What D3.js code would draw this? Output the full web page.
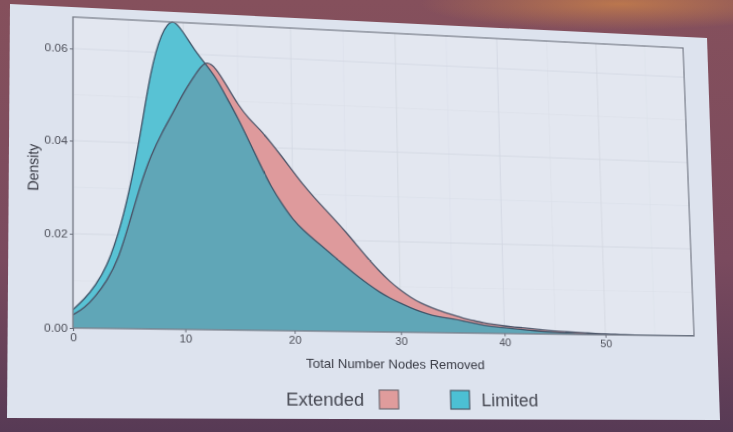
<!DOCTYPE html>
<html><head><meta charset="utf-8">
<script src="https://cdn.jsdelivr.net/npm/d3@7"></script>
<style>
html,body{margin:0;padding:0;width:733px;height:432px;overflow:hidden;background:#6e4459;}
#bg{position:absolute;left:0;top:0;}
#wrap{position:absolute;left:0;top:0;width:733px;height:432px;transform-origin:0 0;}
text{font-family:"Liberation Sans",Arial,sans-serif;}
</style></head><body>
<svg id="bg" width="733" height="432"></svg>
<div id="wrap"><svg id="chart" width="733" height="432"></svg></div>
<script>
// ---- data ----
const nodesRemoved = [0,1,2,3,4,5,6,7,8,9,10,11,12,13,14,15,16,17,18,19,20,21,22,23,24,25,26,27,28,29,
  30,31,32,33,34,35,36,37,38,39,40,41,42,43,44,45,46,47,48,49,50,51,52,53,54,55,56,57,58,59];
const extendedDensity = [0.0028,0.0042,0.0068,0.0101,0.0146,0.0224,0.0308,0.0375,0.0425,0.0468,
  0.0515,0.0552,0.0590,0.0572,0.0532,0.0492,0.0462,0.0440,0.0412,0.0382,
  0.0351,0.0320,0.0293,0.0268,0.0243,0.0217,0.0189,0.0161,0.0135,0.0112,
  0.0093,0.0077,0.0064,0.0055,0.0047,0.0040,0.0033,0.0028,0.0023,0.0020,
  0.0017,0.0015,0.0013,0.0011,0.0009,0.0007,0.0006,0.0005,0.0004,0.0003,
  0.0002,0.0002,0.0001,0.0001,0.0001,0.0001,0.0000,0.0000,0.0000,0.0000];
const limitedDensity = [0.0039,0.0061,0.0091,0.0132,0.0198,0.0290,0.0412,0.0562,0.0645,0.0680,
  0.0648,0.0610,0.0580,0.0550,0.0505,0.0462,0.0412,0.0362,0.0313,0.0276,
  0.0242,0.0219,0.0199,0.0180,0.0160,0.0140,0.0121,0.0104,0.0088,0.0075,
  0.0064,0.0054,0.0045,0.0038,0.0034,0.0031,0.0027,0.0022,0.0018,0.0015,
  0.0013,0.0011,0.0009,0.0007,0.0005,0.0004,0.0003,0.0002,0.0001,0.0001,
  0.0000,0.0000,0.0000,0.0000,0.0000,0.0000,0.0000,0.0000,0.0000,0.0000];
const xTicks = [0,10,20,30,40,50];
const xMinor = [5,15,25,35,45,55];
const yTicks = [0.00,0.02,0.04,0.06];
const yMinor = [0.01,0.03,0.05];
const seriesNames = ["Extended","Limited"];
const xTitle = "Total Number Nodes Removed";
const yTitle = "Density";

// ---- background (photo of a slide) ----
const bg = d3.select("#bg");
const defs0 = bg.append("defs");
const lg = defs0.append("linearGradient").attr("id","bgg").attr("x1",0).attr("y1",0).attr("x2",0).attr("y2",1);
lg.append("stop").attr("offset","0").attr("stop-color","#85505c");
lg.append("stop").attr("offset","0.6").attr("stop-color","#7a4a5e");
lg.append("stop").attr("offset","1").attr("stop-color","#573a55");
const rg = defs0.append("radialGradient").attr("id","org").attr("cx",0.5).attr("cy",0.5).attr("r",0.5);
rg.append("stop").attr("offset","0").attr("stop-color","#c8804a").attr("stop-opacity",0.8);
rg.append("stop").attr("offset","1").attr("stop-color","#c8804a").attr("stop-opacity",0);
bg.append("rect").attr("width",733).attr("height",432).attr("fill","url(#bgg)");
bg.append("ellipse").attr("cx",620).attr("cy",4).attr("rx",200).attr("ry",26).attr("fill","url(#org)");
bg.append("polygon").attr("points","10,4 707,38 720,420 7,418").attr("fill","#dde3ee");

// ---- chart in flat coordinates, then projected ----
const P = {x:73, y:17, w:617, h:311};
const svg = d3.select("#chart");
const x = d3.scaleLinear().domain([0,59]).range([P.x, P.x+P.w]);
const y = d3.scaleLinear().domain([0,0.0669]).range([P.y+P.h, P.y]);

svg.append("rect").attr("x",P.x).attr("y",P.y).attr("width",P.w).attr("height",P.h).attr("fill","#e3e7f0");
const grid = svg.append("g");
grid.selectAll(".vm").data(xMinor).join("line").attr("x1",d=>x(d)).attr("x2",d=>x(d)).attr("y1",P.y).attr("y2",P.y+P.h).attr("stroke","#dadee8").attr("stroke-width",0.5);
grid.selectAll(".hm").data(yMinor).join("line").attr("y1",d=>y(d)).attr("y2",d=>y(d)).attr("x1",P.x).attr("x2",P.x+P.w).attr("stroke","#dadee8").attr("stroke-width",0.5);
grid.selectAll(".vM").data(xTicks).join("line").attr("x1",d=>x(d)).attr("x2",d=>x(d)).attr("y1",P.y).attr("y2",P.y+P.h).attr("stroke","#d2d7e1").attr("stroke-width",0.8);
grid.selectAll(".hM").data(yTicks).join("line").attr("y1",d=>y(d)).attr("y2",d=>y(d)).attr("x1",P.x).attr("x2",P.x+P.w).attr("stroke","#d2d7e1").attr("stroke-width",0.8);

const ext = nodesRemoved.map((n,i)=>({x:n, y:extendedDensity[i]}));
const lim = nodesRemoved.map((n,i)=>({x:n, y:limitedDensity[i]}));
const curve = d3.curveBasis;
const area = d3.area().x(d=>x(d.x)).y0(y(0)).y1(d=>y(Math.max(0,d.y))).curve(curve);
const line = d3.line().x(d=>x(d.x)).y(d=>y(Math.max(0,d.y))).curve(curve);

const defs = svg.append("defs");
defs.append("clipPath").attr("id","extClip").append("path").attr("d",area(ext));
defs.append("clipPath").attr("id","panelClip").append("rect").attr("x",P.x).attr("y",P.y-1).attr("width",P.w).attr("height",P.h+1);
const plot = svg.append("g").attr("clip-path","url(#panelClip)");
plot.append("path").attr("d",area(ext)).attr("fill","#de9a9c");
plot.append("path").attr("d",area(lim)).attr("fill","#58c2d4");
plot.append("path").attr("d",area(lim)).attr("fill","#60a6b7").attr("clip-path","url(#extClip)");
plot.append("path").attr("d",line(ext)).attr("fill","none").attr("stroke","#4a5468").attr("stroke-width",1.3);
plot.append("path").attr("d",line(lim)).attr("fill","none").attr("stroke","#3f5468").attr("stroke-width",1.3);

svg.append("rect").attr("x",P.x).attr("y",P.y).attr("width",P.w).attr("height",P.h).attr("fill","none").attr("stroke","#7c808c").attr("stroke-width",1.3);

// axes
const gx = svg.append("g").attr("transform",`translate(0,${P.y+P.h})`)
  .call(d3.axisBottom(x).tickValues(xTicks).tickSize(3).tickPadding(2).tickFormat(d3.format("d")));
const gy = svg.append("g").attr("transform",`translate(${P.x},0)`)
  .call(d3.axisLeft(y).tickValues(yTicks).tickSize(3).tickPadding(2).tickFormat(d3.format(".2f")));
[gx,gy].forEach(g=>{
  g.select(".domain").remove();
  g.selectAll(".tick line").attr("stroke","#6a6e7a");
  g.selectAll(".tick text").attr("fill","#4c4e58").attr("font-size",11).attr("font-family","Liberation Sans, Arial, sans-serif");
});

svg.append("text").attr("x",P.x+P.w/2).attr("y",365).attr("text-anchor","middle")
  .attr("font-size",13).attr("fill","#383a44").text(xTitle);
svg.append("text").attr("transform",`translate(41,${170}) rotate(-90)`).attr("text-anchor","middle")
  .attr("font-size",14).attr("fill","#383a44").text(yTitle);

// legend
const leg = svg.append("g");
leg.append("text").attr("x",349).attr("y",403).attr("text-anchor","end").attr("font-size",18).attr("fill","#464852").text(seriesNames[0]);
leg.append("rect").attr("x",364).attr("y",387).attr("width",19).attr("height",19).attr("fill","#e09c9c").attr("stroke","#6c6870").attr("stroke-width",1.2);
leg.append("rect").attr("x",435).attr("y",387).attr("width",19).attr("height",19).attr("fill","#4cc0d4").attr("stroke","#4c5866").attr("stroke-width",1.2);
leg.append("text").attr("x",466).attr("y",403).attr("font-size",18).attr("fill","#464852").text(seriesNames[1]);

// ---- perspective (photo of a projected slide) ----
function homography(rect, q){
  const [x0,y0]=q[0],[x1,y1]=q[1],[x2,y2]=q[2],[x3,y3]=q[3];
  const dx1=x1-x2, dx2=x3-x2, dx3=x0-x1+x2-x3;
  const dy1=y1-y2, dy2=y3-y2, dy3=y0-y1+y2-y3;
  const den=dx1*dy2-dx2*dy1;
  const g=(dx3*dy2-dx2*dy3)/den, h=(dx1*dy3-dx3*dy1)/den;
  const a=x1-x0+g*x1, b=x3-x0+h*x3, c=x0;
  const d=y1-y0+g*y1, e=y3-y0+h*y3, f=y0;
  const rx=rect.x, ry=rect.y, rw=rect.w, rh=rect.h;
  const H11=a/rw, H12=b/rh, H13=-a*rx/rw-b*ry/rh+c;
  const H21=d/rw, H22=e/rh, H23=-d*rx/rw-e*ry/rh+f;
  const H31=g/rw, H32=h/rh, H33=-g*rx/rw-h*ry/rh+1;
  return `matrix3d(${H11},${H21},0,${H31},${H12},${H22},0,${H32},0,0,1,0,${H13},${H23},0,${H33})`;
}
document.getElementById("wrap").style.transform =
  homography(P, [[73,17],[683,48],[694,336],[73,328]]);
</script>
</body></html>
